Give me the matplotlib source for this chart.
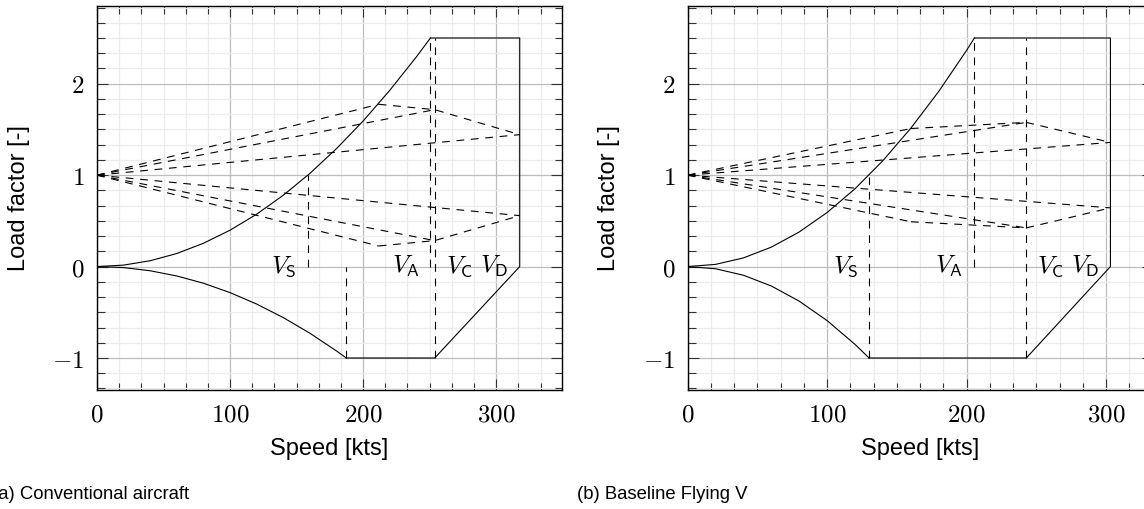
import matplotlib
matplotlib.use("Agg")
import matplotlib.pyplot as plt
from matplotlib.ticker import MultipleLocator, FuncFormatter

plt.rcParams['mathtext.fontset'] = 'cm'
plt.rcParams['font.family'] = ['Liberation Sans', 'DejaVu Sans']

# --- Conventional aircraft ---
conv_speed_pos = [0, 20, 40, 60, 80, 100, 120, 140, 160, 180, 200, 220, 240, 250.6]
conv_n_pos = [0, 0.016, 0.064, 0.143, 0.255, 0.398, 0.573, 0.780, 1.019, 1.290,
              1.592, 1.927, 2.293, 2.5]
conv_speed_neg = [0, 20, 40, 60, 80, 100, 120, 140, 160, 180, 187.4]
conv_n_neg = [0, -0.011, -0.046, -0.103, -0.182, -0.285, -0.410, -0.558, -0.729,
              -0.923, -1.0]
conv_v = {'S': 158.5, 'A': 250.6, 'B': 211.7, 'C': 253.8, 'D': 317.7, 'S_neg': 187.4}
conv_gust_up = [1.775, 1.716, 1.443]      # at V_B, V_C, V_D
conv_gust_down = [0.225, 0.284, 0.557]
conv_verticals = [('S', 0, 1), ('A', 0, 2.5), ('C', -1, 2.5), ('S_neg', -1, 0)]

# --- Baseline Flying V ---
fv_speed_pos = [0, 20, 40, 60, 80, 100, 120, 140, 160, 180, 200, 205.5]
fv_n_pos = [0, 0.024, 0.095, 0.213, 0.379, 0.592, 0.852, 1.160, 1.515, 1.917,
            2.367, 2.5]
fv_speed_neg = [0, 20, 40, 60, 80, 100, 120, 130]
fv_n_neg = [0, -0.024, -0.095, -0.213, -0.379, -0.592, -0.852, -1.0]
fv_v = {'S': 130.0, 'A': 205.5, 'B': 160.0, 'C': 242.7, 'D': 303.0, 'S_neg': 130.0}
fv_gust_up = [1.51, 1.577, 1.358]
fv_gust_down = [0.49, 0.423, 0.642]
fv_verticals = [('S', -1, 1), ('A', 0, 2.5), ('C', -1, 2.5)]

n_max = 2.5
n_min = -1.0

# label anchors: which side of the speed line the V label sits
label_side = {'S': 'right', 'A': 'right', 'C': 'left', 'D': 'right'}

W, H = 1144, 509
solid = dict(color='black', lw=0.8)
dashed = dict(color='black', lw=0.8, linestyle=(0, (7, 6)))


def vn_diagram(ax, speed_pos, n_pos, speed_neg, n_neg, v, gust_up, gust_down, verticals):
    # flight envelope
    ax.plot(speed_pos, n_pos, **solid)
    ax.plot(speed_neg, n_neg, **solid)
    ax.plot([v['A'], v['D'], v['D'], v['C'], v['S_neg']],
            [n_max, n_max, 0, n_min, n_min], **solid)

    # characteristic speeds
    for key, y0, y1 in verticals:
        ax.plot([v[key], v[key]], [y0, y1], **dashed)

    # gust lines
    gust_speeds = [v['B'], v['C'], v['D']]
    for gust in (gust_up, gust_down):
        for vs, ng in zip(gust_speeds, gust):
            ax.plot([0, vs], [1, ng], **dashed)
        ax.plot(gust_speeds, gust, **dashed)

    for key in ['S', 'A', 'C', 'D']:
        side = label_side[key]
        dx = -8 if side == 'right' else 8
        ax.annotate(r'$V_{\mathsf{%s}}$' % key, (v[key], 0), xytext=(dx, 0),
                    textcoords='offset points', ha=side, va='center', fontsize=18)

    ax.set_xlim(0, 1.1 * v['D'])
    ax.set_ylim(-1.35, 2.85)
    ax.xaxis.set_major_locator(MultipleLocator(100))
    ax.xaxis.set_minor_locator(MultipleLocator(100 / 6))
    ax.yaxis.set_major_locator(MultipleLocator(1))
    ax.yaxis.set_minor_locator(MultipleLocator(1 / 6))
    fmt = FuncFormatter(lambda val, pos: '$%d$' % round(val))
    ax.xaxis.set_major_formatter(fmt)
    ax.yaxis.set_major_formatter(fmt)
    ax.tick_params(which='both', direction='in', top=True, right=True,
                   labelsize=18, color='#333333', width=0.8)
    ax.tick_params(which='major', length=8, pad=9)
    ax.tick_params(which='minor', length=5.4)
    ax.grid(which='major', color='#bdbdbd', lw=0.9)
    ax.grid(which='minor', color='#ececec', lw=0.9)
    ax.set_axisbelow(True)
    for sp in ax.spines.values():
        sp.set_linewidth(1.0)

    ax.set_xlabel('Speed [kts]', fontsize=17)
    ax.set_ylabel('Load factor [-]', fontsize=17)
    ax.xaxis.set_label_coords(0.5, -0.125)
    ax.yaxis.set_label_coords(-0.145, 0.5)


fig = plt.figure(figsize=(W / 100, H / 100), dpi=100)
ax1 = fig.add_axes([97 / W, 119 / H, 465 / W, 384 / H])
ax2 = fig.add_axes([687.7 / W, 119 / H, 465 / W, 384 / H])

vn_diagram(ax1, conv_speed_pos, conv_n_pos, conv_speed_neg, conv_n_neg,
           conv_v, conv_gust_up, conv_gust_down, conv_verticals)
vn_diagram(ax2, fv_speed_pos, fv_n_pos, fv_speed_neg, fv_n_neg,
           fv_v, fv_gust_up, fv_gust_down, fv_verticals)

fig.text(-8 / W, 10 / H, '(a) Conventional aircraft', fontsize=13.3, va='baseline')
fig.text(577 / W, 10 / H, '(b) Baseline Flying V', fontsize=13.3, va='baseline')

fig.savefig('out.png', dpi=100)
